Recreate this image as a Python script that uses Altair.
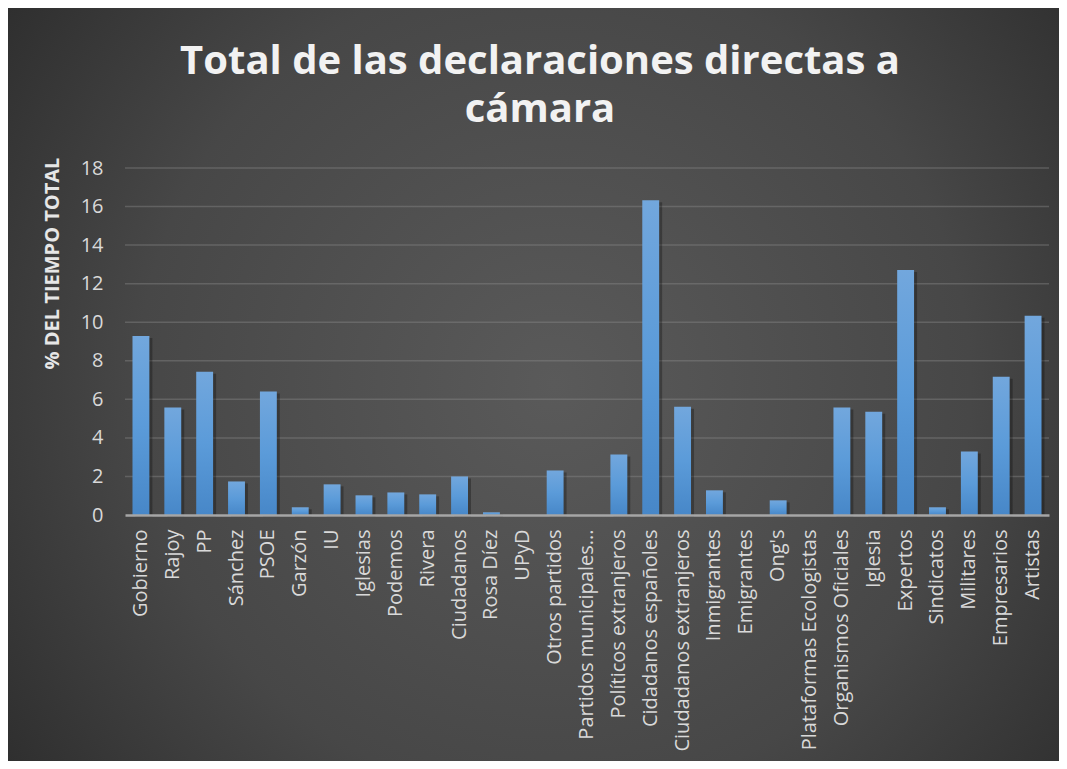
import altair as alt
import pandas as pd

categories = [
    "Gobierno", "Rajoy", "PP", "Sánchez", "PSOE", "Garzón", "IU", "Iglesias",
    "Podemos", "Rivera", "Ciudadanos", "Rosa Díez", "UPyD", "Otros partidos",
    "Partidos municipales...", "Políticos extranjeros", "Cidadanos españoles",
    "Ciudadanos extranjeros", "Inmigrantes", "Emigrantes", "Ong's",
    "Plataformas Ecologistas", "Organismos Oficiales", "Iglesia", "Expertos",
    "Sindicatos", "Militares", "Empresarios", "Artistas",
]
values = [
    9.29, 5.57, 7.43, 1.74, 6.40, 0.40, 1.59, 1.02,
    1.17, 1.07, 2.00, 0.14, 0.0, 2.31,
    0.0, 3.14, 16.33,
    5.62, 1.28, 0.0, 0.76,
    0.0, 5.57, 5.36, 12.71,
    0.40, 3.29, 7.17, 10.33,
]
y_ticks = [0, 2, 4, 6, 8, 10, 12, 14, 16, 18]

title_lines = ["Total de las declaraciones directas a", "cámara"]
y_title = "% DEL TIEMPO TOTAL"

df = pd.DataFrame({"cat": categories, "val": values})
grid_df = pd.DataFrame({"val": y_ticks[1:]})

W, H = 924, 347
PAD = {"left": 117, "top": 160, "right": 10, "bottom": 246}

y_scale = alt.Scale(domain=[0, 18], nice=False)
y_axis = alt.Axis(
    values=y_ticks, domain=False, ticks=False, labelPadding=22, grid=False,
    labelFont="Open Sans", labelFontSize=20, labelColor="#d9d9d9",
    titleFont="Open Sans", titleFontSize=20, titleFontWeight="bold",
    titleColor="#e6e6e6", titleAngle=-90, titleX=-73, titleY=95,
    titleAlign="center", titleBaseline="middle", zindex=1,
)

bg_grad = alt.RadialGradient(
    gradient="radial",
    stops=[
        alt.GradientStop(offset=0, color="#5a5a5a"),
        alt.GradientStop(offset=0.55, color="#474747"),
        alt.GradientStop(offset=1, color="#262626"),
    ],
    x1=0.52, y1=0.5, r1=0, x2=0.52, y2=0.5, r2=0.72,
)

background = alt.Chart(pd.DataFrame({"k": [0]})).mark_rect(
    fill=bg_grad
).encode(
    x=alt.value(-PAD["left"]),
    x2=alt.value(W + PAD["right"]),
    y=alt.value(-PAD["top"]),
    y2=alt.value(H + PAD["bottom"]),
)

grid = alt.Chart(grid_df).mark_rule(
    color="#8c8c8c", opacity=0.4, strokeWidth=1.5
).encode(
    y=alt.Y("val:Q", scale=y_scale, axis=y_axis, title=y_title),
    x=alt.value(0), x2=alt.value(W),
)

x_enc = alt.X(
    "cat:N", sort=None, title=None,
    scale=alt.Scale(paddingInner=0.47, paddingOuter=0.235),
    axis=alt.Axis(
        labelAngle=-90, labelFont="Open Sans", labelFontSize=20,
        labelColor="#d9d9d9", labelPadding=14, ticks=False,
        domainColor="#a6a6a6", domainWidth=2.5, grid=False,
        labelLimit=400, zindex=1, labelOverlap=False,
    ),
)
y_enc = alt.Y("val:Q", title=y_title, scale=y_scale, axis=y_axis)

shadow = alt.Chart(df).mark_bar(
    color="#000000", opacity=0.28, xOffset=3, yOffset=2
).encode(x=x_enc, y=y_enc)

bar_grad = alt.LinearGradient(
    gradient="linear",
    stops=[
        alt.GradientStop(offset=0, color="#72a7dd"),
        alt.GradientStop(offset=0.5, color="#5b9bd9"),
        alt.GradientStop(offset=1, color="#4787c8"),
    ],
    x1=0, x2=0, y1=0, y2=1,
)
bars = alt.Chart(df).mark_bar(fill=bar_grad).encode(x=x_enc, y=y_enc)

title = alt.Chart(pd.DataFrame({"k": [0]})).mark_text(
    text=title_lines, font="Open Sans", fontSize=40, fontWeight="bold",
    color="#f2f2f2", align="center", baseline="alphabetic", lineHeight=48,
).encode(x=alt.value(415), y=alt.value(-94))

chart = alt.layer(background, grid, shadow, bars, title).properties(
    width=W, height=H,
    autosize=alt.AutoSizeParams(type="none"),
    padding=PAD,
).configure(background="#2e2e2e").configure_view(stroke=None)

chart.save("out.html", embed_options={"renderer": "svg", "actions": False})
